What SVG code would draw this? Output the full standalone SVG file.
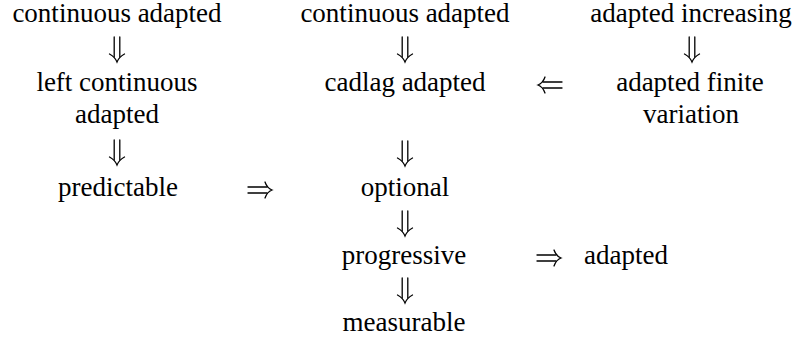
<svg xmlns="http://www.w3.org/2000/svg" width="804" height="341" viewBox="0 0 804 341">
<style>
.t text{font-size:27px;fill:#000;text-anchor:middle}
.a{fill:none;stroke:#000;stroke-width:1.3;stroke-linecap:round}
</style>
<defs>
<g id="dn" class="a"><path d="M-2.8,-19V1M2.8,-19V1"/><path d="M-7.5,-2Q-2,1 0,6Q2,1 7.5,-2"/></g>
<g id="rt" class="a"><path d="M0,-3H19M0,3H19"/><path d="M17,-8Q19,-2 24,0Q19,2 17,8"/></g>
<g id="lt" class="a"><path d="M24,-3H5M24,3H5"/><path d="M7,-8Q5,-2 0,0Q5,2 7,8"/></g>
</defs>
<rect width="804" height="341" fill="#fff"/>
<g class="t">
<g id="n1"><text font-family="Liberation Serif" x="117" y="22">continuous adapted</text></g>
<g id="n2"><text font-family="Liberation Serif" x="405" y="22">continuous adapted</text></g>
<g id="n3"><text font-family="Liberation Serif" x="691" y="22">adapted increasing</text></g>
<g id="n4"><text font-family="Liberation Serif" x="117" y="91">left continuous</text><text font-family="Liberation Serif" x="117" y="123">adapted</text></g>
<g id="n5"><text font-family="Liberation Serif" x="405" y="91">cadlag adapted</text></g>
<g id="n6"><text font-family="Liberation Serif" x="690" y="91">adapted finite</text><text font-family="Liberation Serif" x="691" y="123">variation</text></g>
<g id="n7"><text font-family="Liberation Serif" x="118" y="196">predictable</text></g>
<g id="n8"><text font-family="Liberation Serif" x="405" y="196">optional</text></g>
<g id="n9"><text font-family="Liberation Serif" x="404" y="264">progressive</text></g>
<g id="n10"><text font-family="Liberation Serif" x="626" y="264">adapted</text></g>
<g id="n11"><text font-family="Liberation Serif" x="404" y="331">measurable</text></g>
</g>
<g id="connectors">
<use href="#dn" x="117" y="56"/>
<use href="#dn" x="405" y="56"/>
<use href="#dn" x="692" y="56"/>
<use href="#dn" x="117" y="159"/>
<use href="#dn" x="405" y="160"/>
<use href="#dn" x="405" y="230"/>
<use href="#dn" x="405" y="297"/>
<use href="#lt" x="538" y="85"/>
<use href="#rt" x="248" y="190"/>
<use href="#rt" x="537" y="258"/>
</g>
</svg>
